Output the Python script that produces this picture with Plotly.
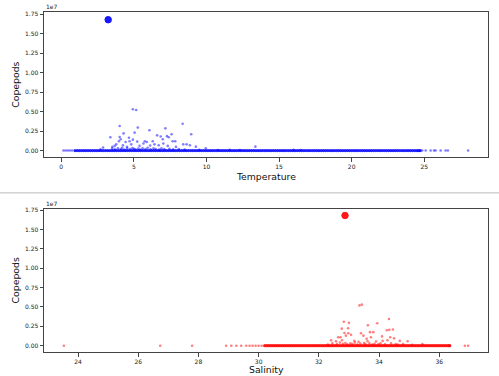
import plotly.graph_objects as go

# ---------------- data ----------------
# Temperature panel: scattered / isolated samples
temp_x = [4.93, 5.16, 4.02, 5.27, 8.36, 7.17, 6.07, 8.95, 3.38, 4.29, 5.05, 4.66, 4.02, 4.09,
          3.97, 4.43, 4.70, 4.93, 5.23, 6.60, 6.85, 7.28, 7.60, 7.40, 7.67, 7.85, 5.75, 5.89,
          6.30, 6.42, 5.66, 6.99, 7.03, 8.40, 8.63, 8.86, 9.27, 3.79, 3.68, 2.88, 3.52, 4.25,
          4.52, 4.82, 5.39, 6.12, 6.71, 7.33, 7.90, 9.95, 13.37,
          3.50, 3.70, 3.90, 4.10, 4.20, 4.35, 4.55, 4.75, 4.90, 5.00, 5.10, 5.30, 5.45, 5.60,
          5.80, 5.95, 6.15, 6.35, 6.50, 6.75, 6.90, 7.10, 7.45, 7.70, 8.10, 8.50, 2.70, 9.50,
          10.8, 11.6, 12.3, 16.0, 16.5,
          0.15, 0.3, 0.45, 0.6, 0.75,
          24.86, 25.1, 25.44, 25.67, 25.78, 26.13, 26.47, 26.63, 28.02]
temp_cop = [5.3e6, 5.2e6, 3.15e6, 2.95e6, 3.45e6, 2.85e6, 2.6e6, 2.1e6, 1.7e6, 2.2e6, 2.3e6,
            1.65e6, 1.75e6, 1.45e6, 1.2e6, 1.1e6, 1.2e6, 1.4e6, 1.15e6, 1.95e6, 1.8e6, 1.85e6,
            2.1e6, 1.7e6, 1.2e6, 1.2e6, 1.2e6, 1.1e6, 1.2e6, 0.8e6, 0.9e6, 1.45e6, 0.9e6, 0.8e6,
            0.8e6, 0.68e6, 0.5e6, 0.8e6, 0.6e6, 0.38e6, 0.47e6, 0.68e6, 0.47e6, 0.8e6, 0.6e6,
            0.64e6, 0.68e6, 0.6e6, 0.47e6, 0.3e6, 0.5e6,
            0.25e6, 0.15e6, 0.3e6, 0.2e6, 0.35e6, 0.12e6, 0.28e6, 0.18e6, 0.32e6, 0.22e6,
            0.15e6, 0.25e6, 0.12e6, 0.3e6, 0.2e6, 0.35e6, 0.15e6, 0.28e6, 0.2e6, 0.12e6,
            0.3e6, 0.18e6, 0.22e6, 0.15e6, 0.2e6, 0.12e6, 0.15e6, 0.1e6, 0.08e6, 0.1e6,
            0.08e6, 0.1e6, 0.08e6,
            0, 0, 0, 0, 0,
            0, 0, 0, 0, 0, 0, 0, 0, 0]
# Temperature panel: dense samples lying on the zero baseline
temp_base = [0.95, 1.1, 1.25, 1.4, 1.55, 1.7, 1.85, 2.0, 2.15, 2.3, 2.45, 2.6, 2.75, 2.9, 3.05,
             3.2, 3.35, 3.5, 3.65, 3.8, 3.95, 4.1, 4.25, 4.4, 4.55, 4.7, 4.85, 5.0, 5.15, 5.3,
             5.45, 5.6, 5.75, 5.9, 6.05, 6.2, 6.35, 6.5, 6.65, 6.8, 6.95, 7.1, 7.25, 7.4, 7.55,
             7.7, 7.85, 8.0, 8.15, 8.3, 8.45, 8.6, 8.75, 8.9, 9.05, 9.2, 9.35, 9.5, 9.65, 9.8,
             9.95, 10.1, 10.25, 10.4, 10.55, 10.7, 10.85, 11.0, 11.15, 11.3, 11.45, 11.6, 11.75,
             11.9, 12.05, 12.2, 12.35, 12.5, 12.65, 12.8, 12.95, 13.1, 13.25, 13.4, 13.55, 13.7,
             13.85, 14.0, 14.15, 14.3, 14.45, 14.6, 14.75, 14.9, 15.05, 15.2, 15.35, 15.5,
             15.65, 15.8, 15.95, 16.1, 16.25, 16.4, 16.55, 16.7, 16.85, 17.0, 17.15, 17.3,
             17.45, 17.6, 17.75, 17.9, 18.05, 18.2, 18.35, 18.5, 18.65, 18.8, 18.95, 19.1,
             19.25, 19.4, 19.55, 19.7, 19.85, 20.0, 20.15, 20.3, 20.45, 20.6, 20.75, 20.9,
             21.05, 21.2, 21.35, 21.5, 21.65, 21.8, 21.95, 22.1, 22.25, 22.4, 22.55, 22.7,
             22.85, 23.0, 23.15, 23.3, 23.45, 23.6, 23.75, 23.9, 24.05, 24.2, 24.35, 24.5,
             24.62, 24.72]
temp_base_cop = [0.0] * len(temp_base)
temp_outlier_x = [3.23]
temp_outlier_cop = [1.68e7]

# Salinity panel: scattered / isolated samples
sal_x = [33.35, 33.43, 34.33, 32.83, 33.00, 33.94, 33.63, 32.76, 32.97, 34.26, 34.34, 34.46,
         32.85, 32.98, 33.40, 33.70, 33.81, 32.64, 32.72, 32.90, 33.07, 33.48, 33.59, 33.73,
         34.10, 34.37, 34.50, 34.69, 34.95, 32.41, 32.57, 32.77, 33.18, 33.32, 33.62, 33.90,
         34.12, 34.28, 35.44,
         32.30, 32.45, 32.60, 32.70, 32.80, 32.88, 32.95, 33.05, 33.12, 33.20, 33.28, 33.38,
         33.50, 33.55, 33.68, 33.78, 33.85, 33.98, 34.05, 34.20, 34.40, 34.55, 34.62, 34.80,
         35.10,
         23.53, 26.73, 27.79, 28.92, 29.09, 29.26, 29.42, 29.59, 29.70, 29.80, 29.90, 30.00,
         30.10, 36.85, 36.96]
sal_cop = [5.2e6, 5.3e6, 3.45e6, 3.1e6, 2.95e6, 2.9e6, 2.65e6, 2.2e6, 2.25e6, 2.0e6, 2.05e6,
           2.1e6, 1.65e6, 1.6e6, 1.6e6, 1.75e6, 1.75e6, 1.1e6, 1.1e6, 1.3e6, 1.4e6, 1.3e6,
           0.9e6, 1.1e6, 1.2e6, 1.1e6, 0.95e6, 0.62e6, 0.58e6, 0.7e6, 0.58e6, 0.7e6, 0.62e6,
           0.5e6, 0.58e6, 0.55e6, 0.62e6, 0.7e6, 0.2e6,
           0.15e6, 0.3e6, 0.2e6, 0.4e6, 0.25e6, 0.35e6, 0.18e6, 0.3e6, 0.22e6, 0.4e6, 0.15e6,
           0.28e6, 0.35e6, 0.2e6, 0.3e6, 0.15e6, 0.25e6, 0.2e6, 0.32e6, 0.18e6, 0.3e6, 0.22e6,
           0.15e6, 0.2e6, 0.12e6,
           0, 0, 0, 0, 0, 0, 0, 0, 0, 0, 0, 0,
           0, 0, 0]
# Salinity panel: dense samples lying on the zero baseline
sal_base = [30.20, 30.26, 30.32, 30.38, 30.44, 30.50, 30.56, 30.62, 30.68, 30.74, 30.80,
            30.86, 30.92, 30.98, 31.04, 31.10, 31.16, 31.22, 31.28, 31.34, 31.40, 31.46, 31.52,
            31.58, 31.64, 31.70, 31.76, 31.82, 31.88, 31.94, 32.00, 32.06, 32.12, 32.18, 32.24,
            32.30, 32.36, 32.42, 32.48, 32.54, 32.60, 32.66, 32.72, 32.78, 32.84, 32.90, 32.96,
            33.02, 33.08, 33.14, 33.20, 33.26, 33.32, 33.38, 33.44, 33.50, 33.56, 33.62, 33.68,
            33.74, 33.80, 33.86, 33.92, 33.98, 34.04, 34.10, 34.16, 34.22, 34.28, 34.34, 34.40,
            34.46, 34.52, 34.58, 34.64, 34.70, 34.76, 34.82, 34.88, 34.94, 35.00, 35.06, 35.12,
            35.18, 35.24, 35.30, 35.36, 35.42, 35.48, 35.54, 35.60, 35.66, 35.72, 35.78, 35.84,
            35.90, 35.96, 36.02, 36.08, 36.14, 36.20, 36.26, 36.32, 36.35]
sal_base_cop = [0.0] * len(sal_base)
sal_outlier_x = [32.87]
sal_outlier_cop = [1.68e7]

y_tick_vals = [0, 2.5e6, 5e6, 7.5e6, 1e7, 1.25e7, 1.5e7, 1.75e7]
y_tick_text = ["0.00", "0.25", "0.50", "0.75", "1.00", "1.25", "1.50", "1.75"]
temp_ticks = [0, 5, 10, 15, 20, 25]
sal_ticks = [24, 26, 28, 30, 32, 34, 36]

BLUE = "#0000ff"
RED = "#ff0000"
FONT = "DejaVu Sans"

fig = go.Figure()

def add_panel(xs, ys, bx, by, ox, oy, color, xa, ya):
    fig.add_trace(go.Scatter(x=bx, y=by, mode="markers", xaxis=xa, yaxis=ya,
                             marker=dict(color=color, size=3.2, opacity=0.85,
                                         line=dict(width=0)),
                             showlegend=False, hoverinfo="skip"))
    fig.add_trace(go.Scatter(x=xs, y=ys, mode="markers", xaxis=xa, yaxis=ya,
                             marker=dict(color=color, size=2.6, opacity=0.5,
                                         line=dict(width=0)),
                             showlegend=False, hoverinfo="skip"))
    fig.add_trace(go.Scatter(x=ox, y=oy, mode="markers", xaxis=xa, yaxis=ya,
                             marker=dict(color=color, size=6.5, opacity=0.9,
                                         line=dict(width=1, color=color)),
                             showlegend=False, hoverinfo="skip"))

add_panel(temp_x, temp_cop, temp_base, temp_base_cop, temp_outlier_x, temp_outlier_cop,
          BLUE, "x", "y")
add_panel(sal_x, sal_cop, sal_base, sal_base_cop, sal_outlier_x, sal_outlier_cop,
          RED, "x2", "y2")

axis_common = dict(showline=True, linecolor="#444", linewidth=1, mirror=True,
                   ticks="outside", ticklen=3.5, tickwidth=1, tickcolor="#444",
                   showgrid=False, zeroline=False,
                   tickfont=dict(family=FONT, size=6, color="#222"))

fig.update_layout(
    width=499, height=376,
    margin=dict(l=44, r=10, t=10, b=24),
    paper_bgcolor="white", plot_bgcolor="white",
    xaxis=dict(domain=[0, 1], anchor="y", range=[-1.19, 29.39],
               tickvals=temp_ticks, ticktext=[str(v) for v in temp_ticks], **axis_common),
    yaxis=dict(domain=[0.573, 1.0], anchor="x", range=[-0.085e7, 1.779e7],
               tickvals=y_tick_vals, ticktext=y_tick_text, **axis_common),
    xaxis2=dict(domain=[0, 1], anchor="y2", range=[22.87, 37.62],
                tickvals=sal_ticks, ticktext=[str(v) for v in sal_ticks], **axis_common),
    yaxis2=dict(domain=[0, 0.422], anchor="x2", range=[-0.081e7, 1.77e7],
                tickvals=y_tick_vals, ticktext=y_tick_text, **axis_common),
)

label_font = dict(family=FONT, size=9.3, color="#111")
small_font = dict(family=FONT, size=6, color="#222")
fig.add_annotation(text="Temperature", xref="paper", yref="paper", x=0.5, y=0.5175,
                   showarrow=False, font=label_font, xanchor="center", yanchor="middle")
fig.add_annotation(text="Salinity", xref="paper", yref="paper", x=0.5, y=-0.0526,
                   showarrow=False, font=label_font, xanchor="center", yanchor="middle")
fig.add_annotation(text="Copepods", xref="paper", yref="paper", x=-0.065, y=0.7865,
                   showarrow=False, font=label_font, textangle=-90,
                   xanchor="center", yanchor="middle")
fig.add_annotation(text="Copepods", xref="paper", yref="paper", x=-0.065, y=0.211,
                   showarrow=False, font=label_font, textangle=-90,
                   xanchor="center", yanchor="middle")
fig.add_annotation(text="1e7", xref="paper", yref="paper", x=0, y=1.0,
                   showarrow=False, font=small_font, xanchor="left", yanchor="bottom")
fig.add_annotation(text="1e7", xref="paper", yref="paper", x=0, y=0.422,
                   showarrow=False, font=small_font, xanchor="left", yanchor="bottom")

# separator line between the two panels
fig.add_shape(type="line", xref="paper", yref="paper", x0=-0.1, x1=1.03, y0=0.468, y1=0.468,
              line=dict(color="#bbbbbb", width=1))

fig.write_html("out.html", config={"displayModeBar": False},
               post_script="document.body.style.margin='0';document.body.style.padding='0';")
